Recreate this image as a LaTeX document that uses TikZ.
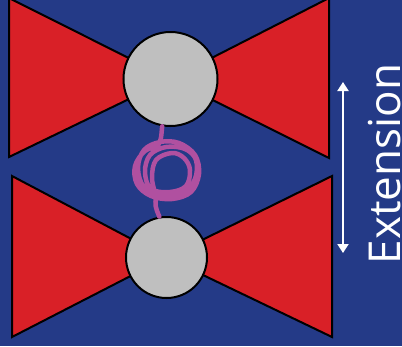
\documentclass[tikz,border=0pt]{standalone}
\usepackage{fontspec}
\usepackage{tikz}
\usetikzlibrary{arrows.meta}
\newfontfamily\labelfont{Open Sans}
\definecolor{bgblue}{RGB}{36,58,135}
\definecolor{wingred}{RGB}{217,32,39}
\definecolor{ballgrey}{RGB}{191,191,191}
\definecolor{loopviolet}{RGB}{176,80,160}

\begin{document}
\begin{tikzpicture}[
  x=1pt,y=-1pt,
  wing/.style={draw=black,line width=2pt,line join=miter,fill=wingred},
  ball/.style={circle,draw=black,line width=2pt,fill=ballgrey,inner sep=0pt},
  scribble/.style={draw=loopviolet,line width=4.5pt,line cap=round,line join=round},
  arr/.style={{Triangle[length=9pt,width=11pt]}-{Triangle[length=9pt,width=11pt]},line width=2pt,draw=white},
  lbl/.style={text=white,font=\labelfont\fontsize{44}{44}\selectfont,rotate=90,anchor=base,inner sep=0pt}
]

\useasboundingbox (0,0) rectangle (402,346);
\fill[bgblue] (0,0) rectangle (402,346);

% upper bow tie
\coordinate (topc) at (170.5,79);
\draw[wing] (9,-2) -- (9,157) -- (topc) -- cycle;
\draw[wing] (329,-2) -- (329,158) -- (topc) -- cycle;
\node[ball,minimum size=94pt] (topball) at (topc) {};

% lower bow tie
\coordinate (botc) at (166.5,257.5);
\draw[wing] (12,176) -- (12,337) -- (botc) -- cycle;
\draw[wing] (332,176) -- (332,337) -- (botc) -- cycle;
\node[ball,minimum size=81pt] (botball) at (botc) {};

% tangled strand between the two balls
\draw[scribble] (topball.260) .. controls (161,140) .. (157,147)
  -- plot[smooth,tension=0.6] coordinates {(157,147) (145,151) (135,166) (137,184) (151,196) (172,199)
     (191,192) (199,174) (195,155) (179,143) (160,142) (144,150) (138,168) (144,187) (162,195)
     (183,192) (195,179) (196,160) (185,149) (166,147) (150,155) (145,172) (151,189) (170,192)
     (186,186) (190,170) (184,158) (172,153) (156,160) (152,178) (156,196)}
  .. controls (155,206) .. (botball.100);

\coordinate (exttop) at (343,82);
\coordinate (extbot) at (343,253);
\draw[arr] (exttop) -- (extbot);
\node[lbl] (ext) at (400,164) {Extension};

\end{tikzpicture}
\end{document}
